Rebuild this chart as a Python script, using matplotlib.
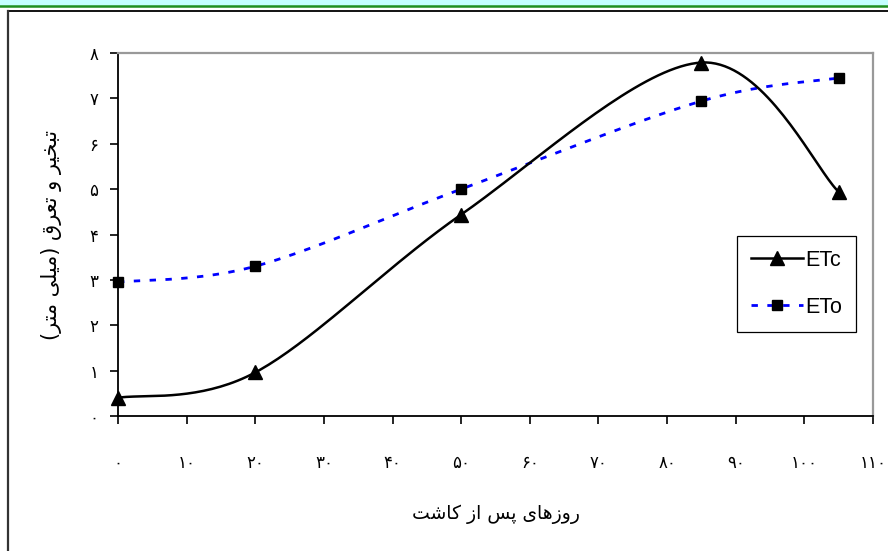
import numpy as np
import matplotlib
matplotlib.use('Agg')
import matplotlib.pyplot as plt
from matplotlib.lines import Line2D

plt.rcParams['font.family'] = ['Liberation Sans', 'DejaVu Sans']

# data
days = [0, 20, 50, 85, 105]
etc = [0.40, 0.96, 4.44, 7.79, 4.94]
eto = [2.95, 3.30, 5.00, 6.94, 7.45]

x_ticks = list(range(0, 111, 10))
y_ticks = list(range(0, 9))
x_label = 'روزهای پس از کاشت'
y_label = 'تبخیر و تعرق (میلی متر)'

# presentation forms: (isolated, final, initial, medial)
FORMS = {
    'ا': ('\uFE8D', '\uFE8E'),
    'ب': ('\uFE8F', '\uFE90', '\uFE91', '\uFE92'),
    'پ': ('\uFB56', '\uFB57', '\uFB58', '\uFB59'),
    'ت': ('\uFE95', '\uFE96', '\uFE97', '\uFE98'),
    'خ': ('\uFEA5', '\uFEA6', '\uFEA7', '\uFEA8'),
    'ر': ('\uFEAD', '\uFEAE'),
    'ز': ('\uFEAF', '\uFEB0'),
    'س': ('\uFEB1', '\uFEB2', '\uFEB3', '\uFEB4'),
    'ش': ('\uFEB5', '\uFEB6', '\uFEB7', '\uFEB8'),
    'ع': ('\uFEC9', '\uFECA', '\uFECB', '\uFECC'),
    'ق': ('\uFED5', '\uFED6', '\uFED7', '\uFED8'),
    'ک': ('\uFB8E', '\uFB8F', '\uFB90', '\uFB91'),
    'ل': ('\uFEDD', '\uFEDE', '\uFEDF', '\uFEE0'),
    'م': ('\uFEE1', '\uFEE2', '\uFEE3', '\uFEE4'),
    'ه': ('\uFEE9', '\uFEEA', '\uFEEB', '\uFEEC'),
    'و': ('\uFEED', '\uFEEE'),
    'ی': ('\uFBFC', '\uFBFD', '\uFBFE', '\uFBFF'),
}


def shape(text):
    # join letters and put them in visual (left to right) order
    out = []
    for i, c in enumerate(text):
        if c not in FORMS:
            out.append(c)
            continue
        f = FORMS[c]
        prev = text[i - 1] if i > 0 else ''
        nxt = text[i + 1] if i + 1 < len(text) else ''
        jp = prev in FORMS and len(FORMS[prev]) == 4
        jn = len(f) == 4 and nxt in FORMS
        if jp and jn:
            out.append(f[3])
        elif jp:
            out.append(f[1])
        elif jn:
            out.append(f[2])
        else:
            out.append(f[0])
    s = ''.join(out)[::-1]
    return s.translate({ord('('): ')', ord(')'): '('})


def fa_digits(n):
    return str(n).translate(str.maketrans('0123456789', '۰۱۲۳۴۵۶۷۸۹'))


def smooth(xs, ys, sx, sy, n=40):
    # excel style smoothed line (catmull-rom bezier) in screen-like units
    p = np.column_stack([np.array(xs) * sx, np.array(ys) * sy])
    pts = []
    idx = [0]
    for i in range(len(p) - 1):
        p0 = p[max(i - 1, 0)]
        p1 = p[i]
        p2 = p[i + 1]
        p3 = p[min(i + 2, len(p) - 1)]
        c1 = p1 + (p2 - p0) / 6
        c2 = p2 - (p3 - p1) / 6
        t = np.linspace(0, 1, n)[:, None]
        seg = ((1 - t) ** 3 * p1 + 3 * (1 - t) ** 2 * t * c1
               + 3 * (1 - t) * t ** 2 * c2 + t ** 3 * p2)
        if i > 0:
            seg = seg[1:]
        pts.append(seg)
        idx.append(idx[-1] + len(seg) if i > 0 else n - 1)
    pts = np.vstack(pts)
    return pts[:, 0] / sx, pts[:, 1] / sy, idx


fig = plt.figure(figsize=(8.88, 5.51), dpi=100)
ax = fig.add_axes([118 / 888, 1 - 416 / 551, 755 / 888, 363 / 551])

sx, sy = 755 / 110, 363 / 8
x1, y1, m1 = smooth(days, etc, sx, sy)
x2, y2, m2 = smooth(days, eto, sx, sy)

ax.plot(x1, y1, color='black', lw=1.8, marker='^', markersize=9.5,
        markevery=m1, markerfacecolor='black', markeredgecolor='black',
        label='ETc', clip_on=False, zorder=3)
ax.plot(x2, y2, color='#0000ff', lw=2.0, dashes=(2.3, 3.4), marker='s',
        markersize=7.5, markevery=m2, markerfacecolor='black',
        markeredgecolor='black', label='ETo', clip_on=False, zorder=2)

ax.set_xlim(0, 110)
ax.set_ylim(0, 8)
ax.set_xticks(x_ticks)
ax.set_xticklabels([fa_digits(v) for v in x_ticks], family='DejaVu Sans', fontsize=12)
ax.set_yticks(y_ticks)
ax.set_yticklabels([fa_digits(v) for v in y_ticks], family='DejaVu Sans', fontsize=12)
ax.tick_params(axis='x', length=6, width=1.2, pad=21)
ax.tick_params(axis='y', length=6, width=1.2, pad=8)

ax.spines['left'].set_linewidth(1.3)
ax.spines['bottom'].set_linewidth(1.3)
for s in ['top', 'right']:
    ax.spines[s].set_color('#999999')
    ax.spines[s].set_linewidth(1.6)

ax.set_xlabel(shape(x_label), family='DejaVu Sans', fontsize=13.5, labelpad=24)
ax.set_ylabel(shape(y_label), family='DejaVu Sans', fontsize=15, labelpad=20)

leg = ax.legend(loc='upper left', bbox_to_anchor=(0.82, 0.496), fontsize=15.5,
                handlelength=2.4, handletextpad=0.1, labelspacing=1.2,
                borderpad=0.65, borderaxespad=0, fancybox=False,
                edgecolor='black', framealpha=1)
leg.get_frame().set_linewidth(0.9)

# page frame around the chart
fig.patches.append(plt.Rectangle((0, 1 - 5 / 551), 1, 5 / 551, transform=fig.transFigure,
                                 color='#c4ffff', zorder=0))
fig.lines.append(Line2D([0, 1], [1 - 6 / 551, 1 - 6 / 551], transform=fig.transFigure,
                        color='#1f8f1f', lw=1.8))
fig.lines.append(Line2D([8 / 888, 1], [1 - 10.5 / 551, 1 - 10.5 / 551],
                        transform=fig.transFigure, color='black', lw=1.3))
fig.lines.append(Line2D([8 / 888, 8 / 888], [0, 1 - 10.5 / 551],
                        transform=fig.transFigure, color='#333333', lw=1.6))

fig.savefig('out.png', dpi=100)
